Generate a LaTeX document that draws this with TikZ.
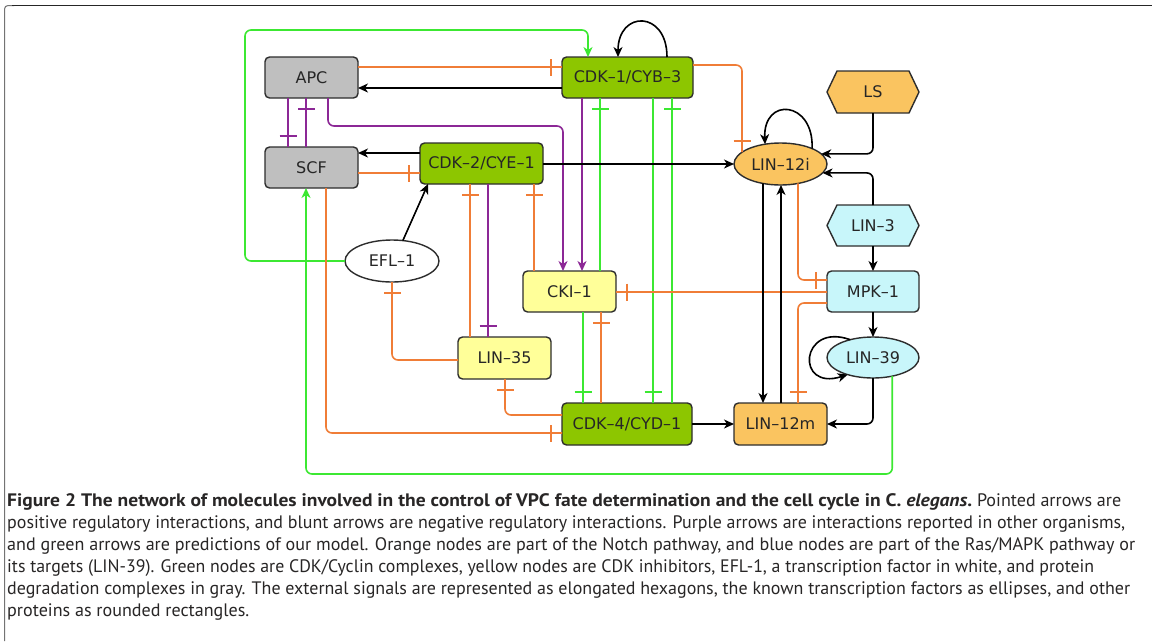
\documentclass[tikz,border=0pt]{standalone}
\usepackage{fontspec}
\usepackage{graphicx}
\setmainfont{DejaVu Sans}
\newfontfamily\capfont{PT Sans}
\newfontfamily\nodefont{DejaVu Sans}
\usetikzlibrary{arrows.meta,decorations.markings,shapes.geometric}
\pgfdeclarelayer{background}
\pgfsetlayers{background,main}
\definecolor{grayfill}{RGB}{191,191,191}
\definecolor{greenfill}{RGB}{141,198,0}
\definecolor{yellowfill}{RGB}{255,255,153}
\definecolor{orangefill}{RGB}{250,196,96}
\definecolor{bluefill}{RGB}{200,246,250}
\definecolor{bordercol}{RGB}{45,45,45}
\definecolor{orline}{RGB}{240,125,55}
\definecolor{grline}{RGB}{60,232,50}
\definecolor{puline}{RGB}{140,40,150}
\definecolor{capcol}{RGB}{40,38,38}
\newlength\capw
\newcommand\fitline[2]{\resizebox{#1pt}{\height}{#2}}
\begin{document}
\settowidth\capw{\capfont\fontsize{10pt}{12pt}\selectfont and green arrows are predictions of our model. Orange nodes are part of the Notch pathway, and blue nodes are part of the Ras/MAPK pathway or}%
\pgfmathsetmacro\capsize{10*1128/\capw}%
\begin{tikzpicture}[x=1pt,y=-1pt,
  nd/.style={draw=bordercol, line width=1.4pt, inner sep=0pt, outer sep=0pt,
    font=\nodefont\fontsize{16pt}{19pt}\selectfont, text=black!85},
  rbox/.style={nd, rounded corners=4.5pt, minimum width=#1, minimum height=41pt},
  ell/.style={nd, shape=ellipse, minimum width=93pt, minimum height=42pt},
  hexn/.style={inner sep=0pt, outer sep=0pt, minimum width=92pt, minimum height=42pt,
    font=\nodefont\fontsize{16pt}{19pt}\selectfont, text=black!85},
  hexshape/.style={draw=bordercol, line width=1.4pt, line join=round},
  ln/.style={line width=1.6pt, rounded corners=6pt},
  arr/.style={-{Stealth[length=10pt,width=9pt,inset=3pt]}},
  inh/.style={draw=#1, postaction={decorate, decoration={markings,
    mark=at position -11pt with {\draw[#1, line width=1.6pt] (0pt,-8.5pt) -- (0pt,8.5pt);}}}},
  capline/.style={anchor=base west, inner sep=0pt, text=capcol,
    font=\capfont\fontsize{\capsize pt}{22pt}\selectfont}
]
\useasboundingbox (0,0) rectangle (1152,641);
\begin{pgfonlayer}{background}
\fill[white] (0,0) rectangle (1152,641);
\end{pgfonlayer}
% frame
\draw[line width=1pt, black!55, rounded corners=3.5pt] (4.5,641) |- (14,5.5);
\draw[line width=1.3pt, black!85] (12,5.5) -- (1152,5.5);

% nodes
\node[rbox=93pt, fill=grayfill] (apc) at (311.5,77.5) {APC};
\node[rbox=93pt, fill=grayfill] (scf) at (311.5,167.5) {SCF};
\node[rbox=131pt, fill=greenfill] (cdk1) at (627.5,77.5) {CDK–1/CYB–3};
\node[rbox=123pt, fill=greenfill] (cdk2) at (481.5,163.5) {CDK–2/CYE–1};
\node[ell, fill=orangefill] (lin12i) at (780.5,164) {LIN–12i};
\node[hexn] (ls) at (873,92) {LS};
\node[hexn, minimum height=41pt] (lin3) at (873,225.5) {LIN–3};
\node[rbox=92pt, fill=bluefill] (mpk1) at (873,291.5) {MPK–1};
\node[ell, fill=bluefill, minimum width=92pt, minimum height=41pt] (lin39) at (873,357.5) {LIN–39};
\node[rbox=93pt, fill=orangefill, minimum height=42pt] (lin12m) at (780.5,424) {LIN–12m};
\node[rbox=130pt, fill=greenfill, minimum height=42pt] (cdk4) at (627,424) {CDK–4/CYD–1};
\node[rbox=93pt, fill=yellowfill] (cki1) at (569.5,291.5) {CKI–1};
\node[rbox=93pt, fill=yellowfill, minimum height=42pt] (lin35) at (504.5,358) {LIN–35};
\node[ell, fill=white, minimum width=94pt] (efl1) at (392,261) {EFL–1};

\begin{pgfonlayer}{background}
\draw[hexshape, fill=orangefill] (ls.west) -- ([shift={(10,0)}]ls.north west) -- ([shift={(-10,0)}]ls.north east)
  -- (ls.east) -- ([shift={(-10,0)}]ls.south east) -- ([shift={(10,0)}]ls.south west) -- cycle;
\draw[hexshape, fill=bluefill] (lin3.west) -- ([shift={(10,0)}]lin3.north west) -- ([shift={(-10,0)}]lin3.north east)
  -- (lin3.east) -- ([shift={(-10,0)}]lin3.south east) -- ([shift={(10,0)}]lin3.south west) -- cycle;
\end{pgfonlayer}

% connectors
% EFL-1 -> CDK-1/CYB-3 (green)
\draw[ln, grline, arr] (efl1.west) -| (245,30) -| ([shift={(-39.5,0)}]cdk1.north);
% APC -| CDK-1
\draw[ln, inh=orline] ([shift={(0,-10.5)}]apc.east) -- ([shift={(0,-10.5)}]cdk1.west);
% CDK-1 -> APC
\draw[ln, arr] ([shift={(0,10.5)}]cdk1.west) -- ([shift={(0,10.5)}]apc.east);
% APC -| SCF, SCF -| APC (purple)
\draw[ln, inh=puline] ([shift={(-23.5,0)}]apc.south) -- ([shift={(-23.5,0)}]scf.north);
\draw[ln, inh=puline] ([shift={(-5.5,0)}]scf.north) -- ([shift={(-5.5,0)}]apc.south);
% APC -> CKI-1 (purple)
\draw[ln, puline, arr] ([shift={(16.5,0)}]apc.south) |- ([shift={(-6.5,-145)}]cki1.north) -- ([shift={(-6.5,0)}]cki1.north);
% CDK-1 -> CKI-1 (purple)
\draw[ln, puline, arr] ([shift={(-45.5,0)}]cdk1.south) -- ([shift={(12.5,0)}]cki1.north);
% green inhibitions
\draw[ln, inh=grline] ([shift={(30.5,0)}]cki1.north) -- ([shift={(-27.5,0)}]cdk1.south);
\draw[ln, inh=grline] ([shift={(25.5,0)}]cdk1.south) -- ([shift={(26,0)}]cdk4.north);
\draw[ln, inh=grline] ([shift={(45,0)}]cdk4.north) -- ([shift={(44.5,0)}]cdk1.south);
\draw[ln, inh=grline] ([shift={(13.5,0)}]cki1.south) -- ([shift={(-44,0)}]cdk4.north);
% CDK-4 -| CKI-1
\draw[ln, inh=orline] ([shift={(-26,0)}]cdk4.north) -- ([shift={(31.5,0)}]cki1.south);
% MPK-1 -| CKI-1
\draw[ln, inh=orline] ([shift={(0,0.5)}]mpk1.west) -- ([shift={(0,0.5)}]cki1.east);
% LIN-12i -| MPK-1
\draw[ln, inh=orline] (lin12i.-48) |- ([shift={(0,-11.5)}]mpk1.west);
% MPK-1 -| LIN-12m
\draw[ln, inh=orline] ([shift={(0,11.5)}]mpk1.west) -| ([shift={(17.5,0)}]lin12m.north);
% CDK-1 -| LIN-12i
\draw[ln, inh=orline] ([shift={(0,-12.5)}]cdk1.east) -| (lin12i.163);
% self loops
\draw[ln, arr] (lin12i.26) .. controls +(2,-48) and +(-2,-48) .. (lin12i.128);
\draw[ln, arr] ([shift={(39.5,0)}]cdk1.north) .. controls +(0,-47) and +(0,-47) .. ([shift={(-9.5,0)}]cdk1.north);
\draw[ln, arr] (lin39.142) .. controls +(-50,-18) and +(-53,17) .. (lin39.214);
% LS, LIN-3 -> LIN-12i
\draw[ln, arr] (ls.south) |- (lin12i.14);
\draw[ln, arr] (lin3.north) |- (lin12i.-12);
% LIN-12i <-> LIN-12m
\draw[ln, arr] (lin12i.228) -- ([shift={(-17.5,0)}]lin12m.north);
\draw[ln, arr] ([shift={(0.5,0)}]lin12m.north) -- ([shift={(0.5,0)}]lin12i.south);
% CDK-4 -> LIN-12m
\draw[ln, arr] (cdk4.east) -- (lin12m.west);
% LIN-39 -> LIN-12m
\draw[ln, arr] (lin39.south) |- (lin12m.east);
% LIN-3 -> MPK-1 -> LIN-39
\draw[ln, arr] (lin3.south) -- (mpk1.north);
\draw[ln, arr] (mpk1.south) -- (lin39.north);
% LIN-39 -> SCF (green)
\draw[ln, grline, arr] (lin39.-44) |- ([shift={(-5.5,286)}]scf.south) -- ([shift={(-5.5,0)}]scf.south);
% CDK-2 -> SCF
\draw[ln, arr] ([shift={(0,-10.5)}]cdk2.west) -- ([shift={(0,-14.5)}]scf.east);
% SCF -| CDK-2
\draw[ln, inh=orline] ([shift={(0,5.5)}]scf.east) -- ([shift={(0,9.5)}]cdk2.west);
% CDK-2 -> LIN-12i
\draw[ln, arr] ([shift={(0,0.5)}]cdk2.east) -- (lin12i.west);
% EFL-1 -> CDK-2
\draw[ln, arr] (efl1.62) -- ([shift={(8,0)}]cdk2.south west);
% SCF -| CDK-4
\draw[ln, inh=orline] ([shift={(14.5,0)}]scf.south) |- ([shift={(0,9)}]cdk4.west);
% CDK-4 -| LIN-35
\draw[ln, inh=orline] ([shift={(0,-9)}]cdk4.west) -| ([shift={(0.5,0)}]lin35.south);
% LIN-35 -| EFL-1
\draw[ln, inh=orline] ([shift={(0,2)}]lin35.west) -| (efl1.south);
% LIN-35 -| CDK-2
\draw[ln, inh=orline] ([shift={(-34.5,0)}]lin35.north) -- ([shift={(-11.5,0)}]cdk2.south);
% CDK-2 -| LIN-35 (purple)
\draw[ln, inh=puline] ([shift={(6.5,0)}]cdk2.south) -- ([shift={(-16.5,0)}]lin35.north);
% CKI-1 -| CDK-2
\draw[ln, inh=orline] ([shift={(-35.5,0)}]cki1.north) -- ([shift={(52.5,0)}]cdk2.south);

% caption
\node[capline] (cap1) at (7,506) {\fitline{965}{\bfseries Figure 2 The network of molecules involved in the control of VPC fate determination and the cell cycle in C. \textit{elegans}.} Pointed arrows are};
\node[capline] (cap2) at (7,528) {\fitline{1118}{positive regulatory interactions, and blunt arrows are negative regulatory interactions. Purple arrows are interactions reported in other organisms,}};
\node[capline] (cap3) at (7,550) {\fitline{1128}{and green arrows are predictions of our model. Orange nodes are part of the Notch pathway, and blue nodes are part of the Ras/MAPK pathway or}};
\node[capline] (cap4) at (7,572) {\fitline{1087}{its targets (LIN-39). Green nodes are CDK/Cyclin complexes, yellow nodes are CDK inhibitors, EFL-1, a transcription factor in white, and protein}};
\node[capline] (cap5) at (7,594) {\fitline{1123}{degradation complexes in gray. The external signals are represented as elongated hexagons, the known transcription factors as ellipses, and other}};
\node[capline] (cap6) at (7,616) {proteins as rounded rectangles.};
\end{tikzpicture}
\end{document}
